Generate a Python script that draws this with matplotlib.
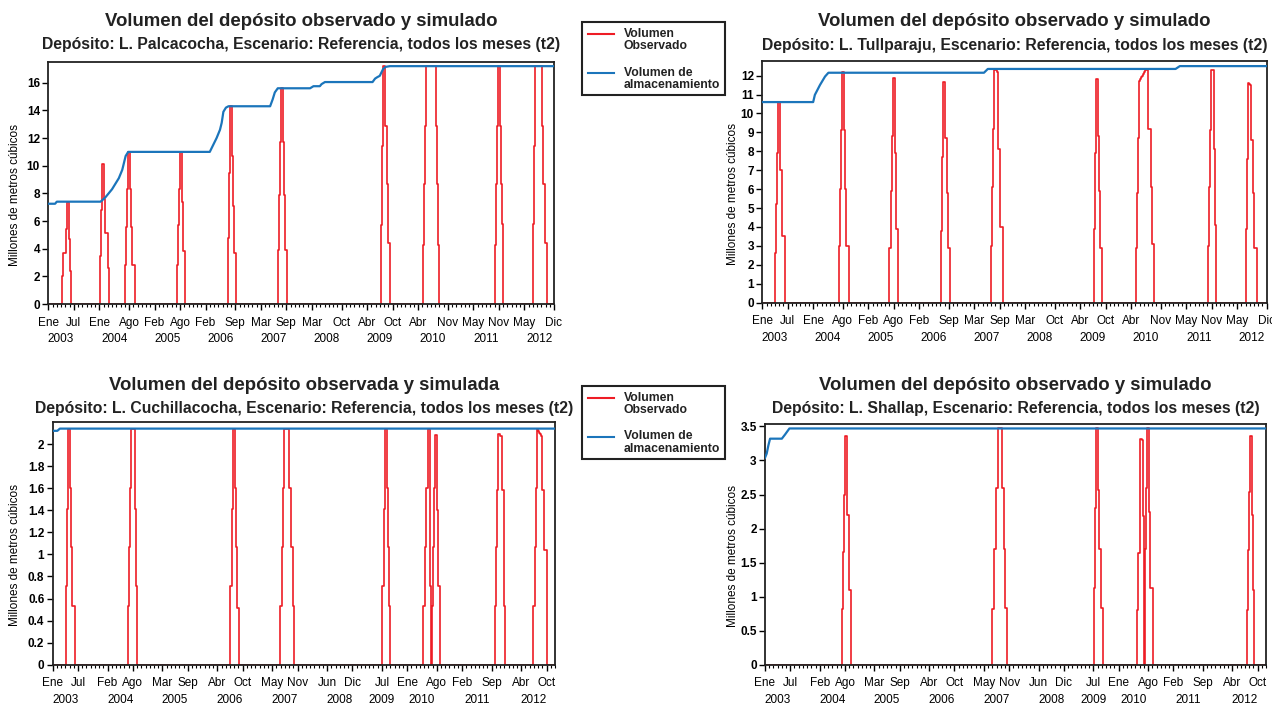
import numpy as np
import matplotlib
matplotlib.use("Agg")
import matplotlib.pyplot as plt
from matplotlib.lines import Line2D
from matplotlib.patches import Rectangle
from matplotlib.ticker import FuncFormatter

plt.rcParams['font.family'] = ['Liberation Sans', 'DejaVu Sans']

# ---------------- data ----------------
MESES = ['Ene', 'Feb', 'Mar', 'Abr', 'May', 'Jun', 'Jul', 'Ago', 'Sep', 'Oct', 'Nov', 'Dic']
N_MONTHS = 119          # Ene 2003 .. Dic 2012 (months since Ene 2003)
STEP = 0.25             # time step of the observed series (months)

top_ticks = [(2003, 1), (2003, 7), (2004, 1), (2004, 8), (2005, 2), (2005, 8), (2006, 2),
             (2006, 9), (2007, 3), (2007, 9), (2008, 3), (2008, 10), (2009, 4), (2009, 10),
             (2010, 4), (2010, 11), (2011, 5), (2011, 11), (2012, 5), (2012, 12)]
bottom_ticks = [(2003, 1), (2003, 7), (2004, 2), (2004, 8), (2005, 3), (2005, 9), (2006, 4),
                (2006, 10), (2007, 5), (2007, 11), (2008, 6), (2008, 12), (2009, 7), (2010, 1),
                (2010, 8), (2011, 2), (2011, 9), (2012, 4), (2012, 10)]

# L. Palcacocha
palca_sim_t = [0, 1.6, 2.0, 12.3, 13.4, 15.0, 16.6, 17.4, 18.2, 18.8, 38.0, 38.8, 39.6, 40.4,
               40.8, 41.2, 41.8, 42.4, 52.2, 52.8, 53.3, 54.0, 61.6, 62.4, 63.9, 64.3, 65.1,
               76.3, 76.9, 77.4, 78.0, 78.8, 79.4, 80.4, 119]
palca_sim_v = [7.25, 7.25, 7.4, 7.4, 7.7, 8.3, 9.1, 9.7, 10.7, 11.0, 11.0, 11.5, 12.0, 12.6,
               13.1, 13.9, 14.2, 14.3, 14.3, 14.8, 15.3, 15.6, 15.6, 15.75, 15.75, 15.9, 16.05,
               16.05, 16.3, 16.4, 16.5, 17.0, 17.15, 17.2, 17.2]
palca_obs_start = [3.3, 12.2, 18.0, 30.2, 42.2, 54.0, 78.3, 88.2, 105.0, 114.1]
palca_obs_levels = [
    [2.0, 3.7, 3.7, 5.4, 7.4, 7.4, 4.7, 2.4],
    [3.5, 6.8, 10.1, 10.1, 7.6, 5.1, 5.1, 2.6],
    [2.8, 5.6, 8.3, 11.0, 11.0, 8.3, 5.6, 2.8, 2.8, 2.8],
    [2.8, 5.7, 8.3, 11.0, 11.0, 7.4, 3.8, 3.8],
    [4.8, 9.5, 14.3, 14.3, 10.7, 7.1, 3.7, 3.7],
    [3.9, 7.9, 11.7, 15.6, 15.6, 11.7, 7.9, 3.9, 3.9],
    [5.7, 11.4, 17.2, 17.2, 12.9, 12.9, 8.7, 4.4],
    [4.3, 8.7, 12.9, 17.2, 17.2, 17.2, 17.2, 17.2, 17.2, 17.2, 17.2, 17.2, 12.9, 8.7, 4.3],
    [4.3, 8.7, 12.9, 17.2, 17.2, 12.9, 8.7, 5.8],
    [5.8, 11.4, 17.2, 17.2, 17.2, 17.2, 17.2, 17.2, 12.9, 8.7, 8.7, 4.4, 4.4],
]

# L. Tullparaju
tull_sim_t = [0, 12.0, 12.4, 13.6, 14.8, 15.6, 52.3, 53.2, 97.5, 98.5, 119]
tull_sim_v = [10.6, 10.6, 10.98, 11.5, 11.95, 12.15, 12.15, 12.35, 12.35, 12.5, 12.5]
tull_obs_start = [3.0, 18.1, 30.0, 42.1, 53.9, 78.2, 88.1, 105.2, 114.1]
tull_obs_levels = [
    [2.6, 5.2, 7.9, 10.6, 10.6, 7.0, 7.0, 3.5, 3.5],
    [3.0, 6.0, 9.1, 12.2, 12.2, 9.1, 6.0, 3.0, 3.0],
    [2.9, 5.9, 8.8, 11.85, 11.85, 7.9, 3.9, 3.9],
    [3.8, 7.7, 11.65, 11.65, 8.7, 8.7, 5.8, 2.9, 2.9],
    [3.0, 6.1, 9.2, 12.3, 12.3, 12.3, 12.2, 8.1, 8.1, 4.0, 4.0, 4.0],
    [3.9, 7.9, 11.8, 11.8, 8.8, 5.9, 2.9, 2.9],
    [2.9, 5.8, 8.7, 11.7, 11.8, 11.9, 12.0, 12.1, 12.2, 12.3, 12.3, 12.3, 9.2, 9.2, 6.1, 3.1, 3.1],
    [3.0, 6.1, 9.1, 12.3, 12.3, 8.1, 4.1],
    [3.9, 7.6, 11.6, 11.55, 11.5, 8.6, 8.6, 5.8, 2.9, 2.9],
]

# L. Cuchillacocha
cuchi_sim_t = [0, 1.1, 1.7, 119]
cuchi_sim_v = [2.12, 2.12, 2.14, 2.14]
cuchi_obs_start = [3.15, 17.9, 42.0, 53.9, 78.0, 87.8, 104.8, 113.9]
cuchi_obs_levels = [
    [0.71, 1.41, 2.14, 2.14, 1.6, 1.07, 0.53, 0.53, 0.53],
    [0.53, 1.07, 1.6, 2.14, 2.14, 2.14, 1.41, 0.71],
    [0.71, 0.71, 1.41, 2.14, 2.14, 1.6, 1.07, 0.51, 0.51],
    [0.53, 0.53, 1.07, 1.6, 2.14, 2.14, 2.14, 2.14, 1.6, 1.6, 1.07, 1.07, 0.53],
    [0.71, 0.71, 1.41, 2.14, 2.14, 1.6, 1.07, 0.53],
    [0.53, 0.53, 1.07, 1.6, 2.14, 2.14, 0.71, 0.0, 0.53, 1.07, 1.6, 2.08, 2.08, 1.4, 0.71, 0.71],
    [0.53, 1.07, 1.58, 2.09, 2.09, 2.07, 2.07, 1.58, 0.53],
    [0.53, 1.07, 1.6, 2.14, 2.12, 2.1, 2.09, 2.07, 1.58, 1.58, 1.04, 1.04, 1.04],
]

# L. Shallap
shall_sim_t = [0, 0.4, 0.8, 1.2, 4.0, 4.75, 5.8, 119]
shall_sim_v = [3.04, 3.1, 3.22, 3.32, 3.32, 3.38, 3.47, 3.47]
shall_obs_start = [18.2, 54.0, 78.2, 88.3, 114.4]
shall_obs_levels = [
    [0.82, 1.66, 2.5, 3.36, 3.36, 2.2, 2.2, 1.1, 1.1],
    [0.82, 0.82, 1.7, 2.6, 2.6, 3.47, 3.47, 3.47, 3.47, 2.6, 2.6, 1.7, 0.83, 0.83],
    [1.13, 2.3, 3.47, 3.47, 2.57, 1.7, 0.83, 0.83],
    [0.81, 1.64, 1.64, 3.32, 3.32, 3.30, 2.18, 0.0, 1.7, 2.6, 3.47, 3.47, 2.25, 1.13, 1.13],
    [0.81, 1.68, 2.54, 3.36, 3.36, 2.2, 1.1],
]

titles = ['Volumen del depósito observado y simulado',
          'Volumen del depósito observado y simulado',
          'Volumen del depósito observada y simulada',
          'Volumen del depósito observado y simulado']
subtitles = ['Depósito: L. Palcacocha, Escenario: Referencia, todos los meses (t2)',
             'Depósito: L. Tullparaju, Escenario: Referencia, todos los meses (t2)',
             'Depósito: L. Cuchillacocha, Escenario: Referencia, todos los meses (t2)',
             'Depósito: L. Shallap, Escenario: Referencia, todos los meses (t2)']
legend_labels = ['Volumen\nObservado', 'Volumen de\nalmacenamiento']
ylabel = 'Millones de metros cúbicos'

RED = '#ee1c25'
BLUE = '#1b75bb'

# ---------------- figure ----------------
W, H = 1272, 704
fig = plt.figure(figsize=(W / 100, H / 100), dpi=100)


def px_rect(l, t, r, b):
    return [l / W, 1 - b / H, (r - l) / W, (b - t) / H]


def obs_series(starts, levels):
    t, v = [0.0], [0.0]
    for s, lv in zip(starts, levels):
        for i, val in enumerate(lv):
            t.append(s + i * STEP)
            v.append(val)
        t.append(s + len(lv) * STEP)
        v.append(0.0)
    t.append(N_MONTHS)
    v.append(0.0)
    return t, v


panels = [
    dict(rect=px_rect(48.3, 62, 554, 304), ticks=top_ticks, ymax=17.5, ytop=16, ystep=2,
         sim=(palca_sim_t, palca_sim_v), obs=(palca_obs_start, palca_obs_levels), ylx=-0.054),
    dict(rect=px_rect(762.3, 61, 1266.7, 302.7), ticks=top_ticks, ymax=12.77, ytop=12, ystep=1,
         sim=(tull_sim_t, tull_sim_v), obs=(tull_obs_start, tull_obs_levels), ylx=-0.046),
    dict(rect=px_rect(52.7, 422, 555, 664.7), ticks=bottom_ticks, ymax=2.2, ytop=2, ystep=0.2,
         sim=(cuchi_sim_t, cuchi_sim_v), obs=(cuchi_obs_start, cuchi_obs_levels), ylx=-0.063),
    dict(rect=px_rect(765, 423.7, 1266, 664.7), ticks=bottom_ticks, ymax=3.54, ytop=3.5, ystep=0.5,
         sim=(shall_sim_t, shall_sim_v), obs=(shall_obs_start, shall_obs_levels), ylx=-0.052),
]

title_y = [21.5, 21.5, 385, 385]
sub_y = [44.5, 45.5, 408, 409]

for k, p in enumerate(panels):
    ax = fig.add_axes(p['rect'])
    ot, ov = obs_series(*p['obs'])
    ax.plot(ot, ov, color=RED, lw=1.2, drawstyle='steps-post', zorder=2)
    ax.plot(p['sim'][0], p['sim'][1], color=BLUE, lw=1.6, zorder=3)

    ax.set_xlim(0, N_MONTHS)
    ax.set_ylim(0, p['ymax'])
    pos = [(y - 2003) * 12 + m - 1 for y, m in p['ticks']]
    ax.set_xticks(pos)
    ax.set_xticklabels([MESES[m - 1] for y, m in p['ticks']], fontsize=8.5)
    ax.set_xticks(np.arange(0, N_MONTHS + 1), minor=True)
    yt = np.arange(0, p['ytop'] + 1e-9, p['ystep'])
    ax.set_yticks(yt)
    ax.yaxis.set_major_formatter(FuncFormatter(lambda v, _: f'{v:.1f}'.rstrip('0').rstrip('.')))
    for lab in ax.get_yticklabels():
        lab.set_fontweight('bold')
        lab.set_fontsize(8.5)
    ax.tick_params(axis='x', which='major', length=4, width=1, pad=5, direction='out')
    ax.tick_params(axis='x', which='minor', length=2, width=0.8, direction='out')
    ax.tick_params(axis='y', which='major', length=4, width=1, pad=2, direction='out')
    for s in ax.spines.values():
        s.set_linewidth(1.3)
        s.set_color('#222222')

    # year labels centred under their month labels
    years = sorted(set(y for y, m in p['ticks']))
    for yr in years:
        xs = [q for q, (y, m) in zip(pos, p['ticks']) if y == yr]
        ax.text(np.mean(xs), -0.145, str(yr), transform=ax.get_xaxis_transform(),
                ha='center', va='center', fontsize=8.5)

    ax.set_ylabel(ylabel, fontsize=8.5)
    ax.yaxis.set_label_coords(p['ylx'], 0.45)

    cx = p['rect'][0] + p['rect'][2] / 2
    fig.text(cx, 1 - title_y[k] / H, titles[k], ha='center', va='center',
             fontsize=13.4, fontweight='bold', color='#222222')
    fig.text(cx, 1 - sub_y[k] / H, subtitles[k], ha='center', va='center',
             fontsize=11.3, fontweight='bold', color='#222222')

# ---------------- legends ----------------
for top in (22, 386):
    l, r, b = 582, 725, top + 73
    fig.add_artist(Rectangle((l / W, 1 - b / H), (r - l) / W, (b - top) / H,
                             transform=fig.transFigure, fill=False, edgecolor='#222222',
                             linewidth=1.5))
    for j, (col, lab) in enumerate(zip([RED, BLUE], legend_labels)):
        ly = top + 12 + j * 38.5
        fig.add_artist(Line2D([588 / W, 614 / W], [1 - ly / H, 1 - ly / H],
                              transform=fig.transFigure, color=col, lw=1.5))
        fig.text(624 / W, 1 - (ly - 6) / H, lab, ha='left', va='top', fontsize=8.8,
                 fontweight='bold', linespacing=1.05, color='#222222')

fig.savefig('out.png', dpi=100)
